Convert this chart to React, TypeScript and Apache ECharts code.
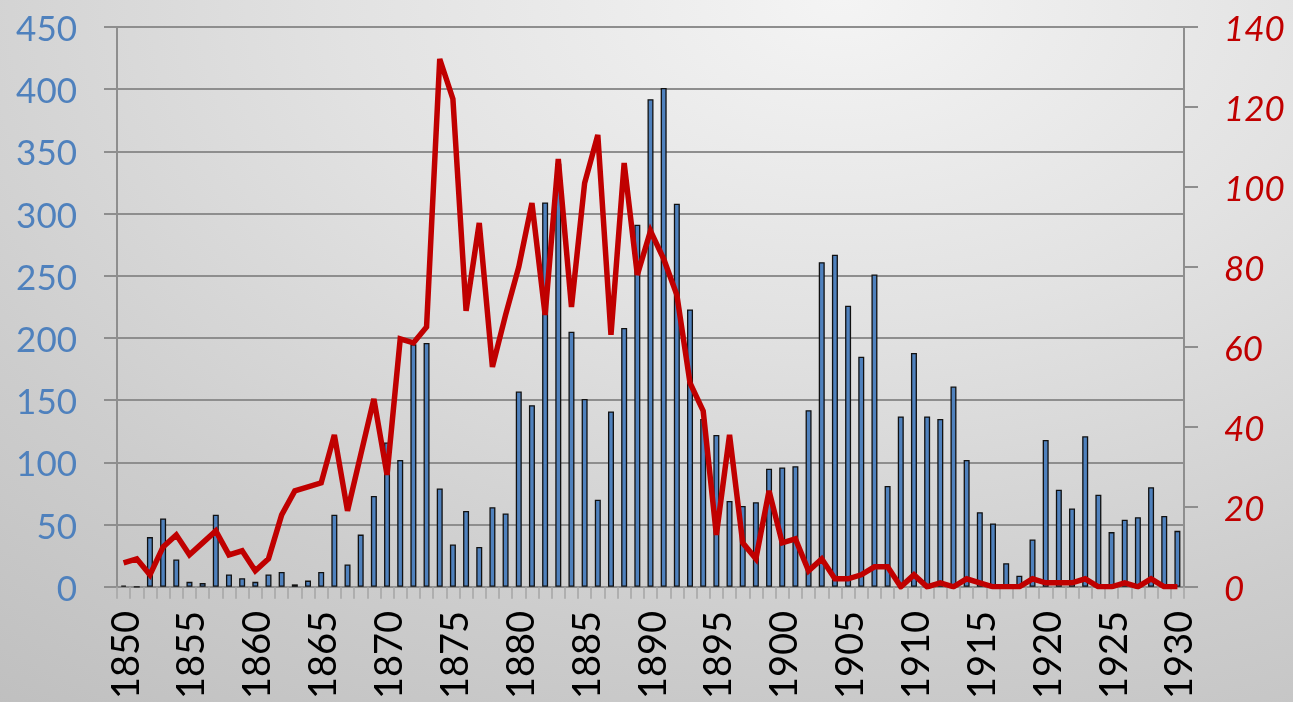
import React, { useEffect, useRef } from "react";
import * as echarts from "echarts";

const years: string[] = [];
for (let y = 1850; y <= 1930; y++) years.push(String(y));

const barValues = [
  1, 0, 40, 55, 22, 4, 3, 58, 10, 7,
  4, 10, 12, 2, 5, 12, 58, 18, 42, 73,
  116, 102, 195, 196, 79, 34, 61, 32, 64, 59,
  157, 146, 309, 340, 205, 151, 70, 141, 208, 291,
  392, 401, 308, 223, 135, 122, 69, 65, 68, 95,
  96, 97, 142, 261, 267, 226, 185, 251, 81, 137,
  188, 137, 135, 161, 102, 60, 51, 19, 9, 38,
  118, 78, 63, 121, 74, 44, 54, 56, 80, 57,
  45,
];

const lineValues = [
  6, 7, 3, 10, 13, 8, 11, 14, 8, 9,
  4, 7, 18, 24, 25, 26, 38, 19, 33, 47,
  28, 62, 61, 65, 132, 122, 69, 91, 55, 68,
  80, 96, 68, 107, 70, 101, 113, 63, 106, 78,
  89, 82, 73, 51, 44, 13, 38, 11, 7, 24,
  11, 12, 4, 7, 2, 2, 3, 5, 5, 0,
  3, 0, 1, 0, 2, 1, 0, 0, 0, 2,
  1, 1, 1, 2, 0, 0, 1, 0, 2, 0,
  0,
];

const FONT = "Lato, 'Open Sans', sans-serif";
const GRID_COLOR = "#8e8e8e";

export default function App() {
  const ref = useRef<HTMLDivElement>(null);

  useEffect(() => {
    if (!ref.current) return;
    const chart = echarts.init(ref.current, undefined, { renderer: "svg" });
    chart.setOption({
      animation: false,
      grid: { left: 117, right: 109, top: 27, bottom: 113, containLabel: false },
      xAxis: {
        type: "category",
        data: years,
        boundaryGap: true,
        axisLine: { show: true, lineStyle: { color: GRID_COLOR, width: 2 } },
        axisTick: {
          show: true,
          interval: 0,
          length: 12,
          lineStyle: { color: "#a4a4a4", width: 1.5 },
        },
        axisLabel: {
          interval: 4,
          rotate: 90,
          margin: 24,
          color: "#000",
          fontFamily: FONT,
          fontSize: 38,
        },
        splitLine: { show: false },
      },
      yAxis: [
        {
          type: "value",
          min: 0,
          max: 450,
          interval: 50,
          position: "left",
          axisLine: { show: true, lineStyle: { color: GRID_COLOR, width: 2 } },
          axisTick: { show: true, length: 13, lineStyle: { color: GRID_COLOR, width: 2 } },
          axisLabel: {
            color: "#4F81BD",
            fontFamily: FONT,
            fontSize: 35,
            margin: 40,
          },
          splitLine: { show: true, lineStyle: { color: GRID_COLOR, width: 2 } },
        },
        {
          type: "value",
          min: 0,
          max: 140,
          interval: 20,
          position: "right",
          axisLine: { show: true, lineStyle: { color: GRID_COLOR, width: 2 } },
          axisTick: { show: true, length: 14, lineStyle: { color: GRID_COLOR, width: 2 } },
          axisLabel: {
            color: "#C00000",
            fontFamily: FONT,
            fontStyle: "italic",
            fontSize: 35,
            margin: 40,
          },
          splitLine: { show: false },
        },
      ],
      series: [
        {
          type: "bar",
          data: barValues,
          yAxisIndex: 0,
          barWidth: 6,
          itemStyle: { color: "#4F81BD", borderColor: "#111", borderWidth: 1.3 },
          z: 2,
        },
        {
          type: "line",
          data: lineValues,
          yAxisIndex: 1,
          showSymbol: false,
          symbol: "none",
          lineStyle: { color: "#C00000", width: 5.5, join: "miter" },
          z: 3,
        },
      ],
    });
    return () => chart.dispose();
  }, []);

  return (
    <div
      style={{
        position: "fixed",
        left: 0,
        top: 0,
        width: 1293,
        height: 702,
        background:
          "radial-gradient(ellipse 110% 130% at 65% 0%, #f4f4f4 0%, #e2e2e2 35%, #cdcdcd 70%, #bebebe 100%)",
      }}
    >
      <div ref={ref} style={{ width: 1293, height: 702 }} />
    </div>
  );
}
